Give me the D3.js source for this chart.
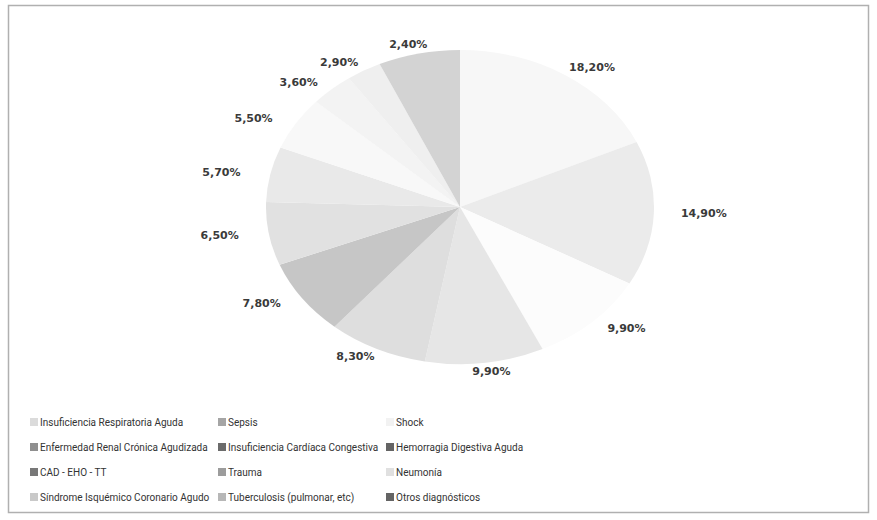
<!DOCTYPE html>
<html>
<head>
<meta charset="utf-8">
<script src="https://cdn.jsdelivr.net/npm/d3@7"></script>
<style>
  body { margin: 0; background: #ffffff; }
  .pctLabel { font: bold 11px "DejaVu Sans", sans-serif; fill: #3a3a3a; }
  .legendText { font: 10px Roboto, sans-serif; fill: #333333; }
</style>
</head>
<body>
<div id="svg-area"></div>
<script>
var svgWidth = 877;
var svgHeight = 520;

// diagnoses, in slice order (clockwise from 12 o'clock)
var diagnoses = [
  "Insuficiencia Respiratoria Aguda",
  "Sepsis",
  "Shock",
  "Enfermedad Renal Crónica Agudizada",
  "Insuficiencia Cardíaca Congestiva",
  "Hemorragia Digestiva Aguda",
  "CAD - EHO - TT",
  "Trauma",
  "Neumonía",
  "Síndrome Isquémico Coronario Agudo",
  "Tuberculosis  (pulmonar, etc)",
  "Otros diagnósticos"
];

// percent of patients
var percents = [18.2, 14.9, 9.9, 9.9, 8.3, 7.8, 6.5, 5.7, 5.5, 3.6, 2.9, 2.4];

// faded greys as they show on the scanned chart
var sliceColors = [
  "#f7f7f7", "#ebebeb", "#fcfcfc", "#e6e6e6", "#dedede", "#c6c6c6",
  "#e1e1e1", "#e9e9e9", "#f8f8f8", "#f3f3f3", "#efefef", "#d3d3d3"
];

var svg = d3.select("#svg-area").append("svg")
  .attr("width", svgWidth)
  .attr("height", svgHeight);

// chart frame
svg.append("rect")
  .attr("x", 8.5).attr("y", 5.5)
  .attr("width", 860).attr("height", 507)
  .attr("fill", "#ffffff")
  .attr("stroke", "#b0b0b0")
  .attr("stroke-width", 1.5);

// pie is squashed: wider than tall
var cx = 460, cy = 207;
var rx = 194, ry = 157;

// angles are share of 100%; the last slice closes the circle
var angle = d3.scaleLinear().domain([0, 100]).range([0, 2 * Math.PI]);
var slices = [];
var run = 0;
percents.forEach(function(p, i) {
  var s = angle(run);
  run += p;
  var e = (i === percents.length - 1) ? 2 * Math.PI : angle(run);
  slices.push({ name: diagnoses[i], value: p, color: sliceColors[i], startAngle: s, endAngle: e });
});

var arc = d3.arc().innerRadius(0).outerRadius(ry);

var pieGroup = svg.append("g")
  .attr("transform", `translate(${cx}, ${cy}) scale(${rx / ry}, 1)`);

pieGroup.selectAll("path")
  .data(slices)
  .enter()
  .append("path")
  .attr("d", arc)
  .attr("fill", function(d) { return d.color; });

// outside labels
var fmt = function(v) { return v.toFixed(2).replace(".", ",") + "%"; };
var lx = 244, ly = 166;

svg.selectAll(".pctLabel")
  .data(slices)
  .enter()
  .append("text")
  .attr("class", "pctLabel")
  .attr("text-anchor", "middle")
  .attr("dominant-baseline", "central")
  .attr("x", function(d) {
    var a = (d.startAngle + d.endAngle) / 2;
    return cx + lx * Math.sin(a);
  })
  .attr("y", function(d) {
    var a = (d.startAngle + d.endAngle) / 2;
    return cy - ly * Math.cos(a);
  })
  .text(function(d) { return fmt(d.value); });

// legend swatches print darker than the slices on the scan
function swatch(c) {
  var g = d3.color(c).r;
  var v = Math.max(100, 255 - (255 - g) * 4.5);
  return d3.rgb(v, v, v).toString();
}

// legend, 3 columns
var colX = d3.scaleOrdinal().domain([0, 1, 2]).range([30, 218, 386]);
var rowY = d3.scalePoint().domain([0, 1, 2, 3]).range([422, 497]);

var legend = svg.selectAll(".legendItem")
  .data(slices)
  .enter()
  .append("g")
  .attr("class", "legendItem")
  .attr("transform", function(d, i) {
    return `translate(${colX(i % 3)}, ${rowY(Math.floor(i / 3))})`;
  });

legend.append("rect")
  .attr("x", 0).attr("y", -4)
  .attr("width", 8).attr("height", 8)
  .attr("fill", function(d) { return swatch(d.color); });

legend.append("text")
  .attr("class", "legendText")
  .attr("x", 10)
  .attr("dy", "0.35em")
  .text(function(d) { return d.name; });
</script>
</body>
</html>
